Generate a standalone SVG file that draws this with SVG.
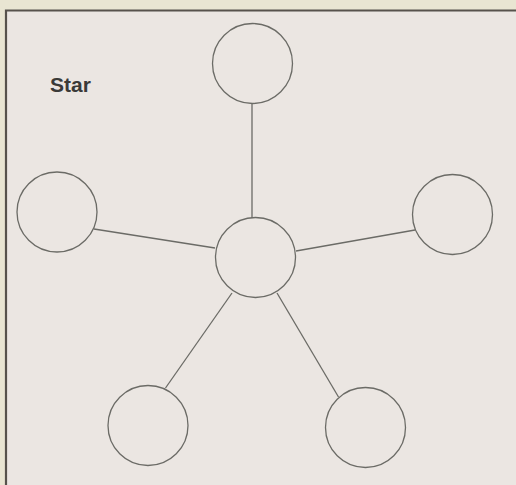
<svg xmlns="http://www.w3.org/2000/svg" width="516" height="485" viewBox="0 0 516 485">
<style>
.node{fill:none;stroke:#6b6b66;stroke-width:1.3}
.edge{stroke:#6b6b66;stroke-width:1.3;fill:none}
.title{font-family:"Liberation Sans",Arial,sans-serif;font-weight:bold;font-size:21px;fill:#3a3a38}
</style>
<rect x="0" y="0" width="516" height="485" fill="#e9e5d2"/>
<rect x="6" y="10" width="510" height="475" fill="#ebe6e2"/>
<path d="M6 485 V10.5 H516" fill="none" stroke="#57524c" stroke-width="2.2"/>
<text class="title" x="50" y="92">Star</text>
<g id="connectors">
<line class="edge" x1="252" y1="104" x2="252" y2="218"/>
<line class="edge" x1="94" y1="229" x2="215" y2="248"/>
<line class="edge" x1="296" y1="251" x2="415" y2="230"/>
<line class="edge" x1="232" y1="293" x2="165.5" y2="388"/>
<line class="edge" x1="277" y1="293" x2="338.5" y2="397"/>
</g>
<g id="top"><circle class="node" cx="252.5" cy="63.5" r="40"/></g>
<g id="left"><circle class="node" cx="57" cy="212" r="40"/></g>
<g id="right"><circle class="node" cx="452.5" cy="214.5" r="40"/></g>
<g id="center"><circle class="node" cx="255.5" cy="257.5" r="40"/></g>
<g id="bottom-left"><circle class="node" cx="148" cy="425.5" r="40"/></g>
<g id="bottom-right"><circle class="node" cx="365.5" cy="427.5" r="40"/></g>
</svg>
